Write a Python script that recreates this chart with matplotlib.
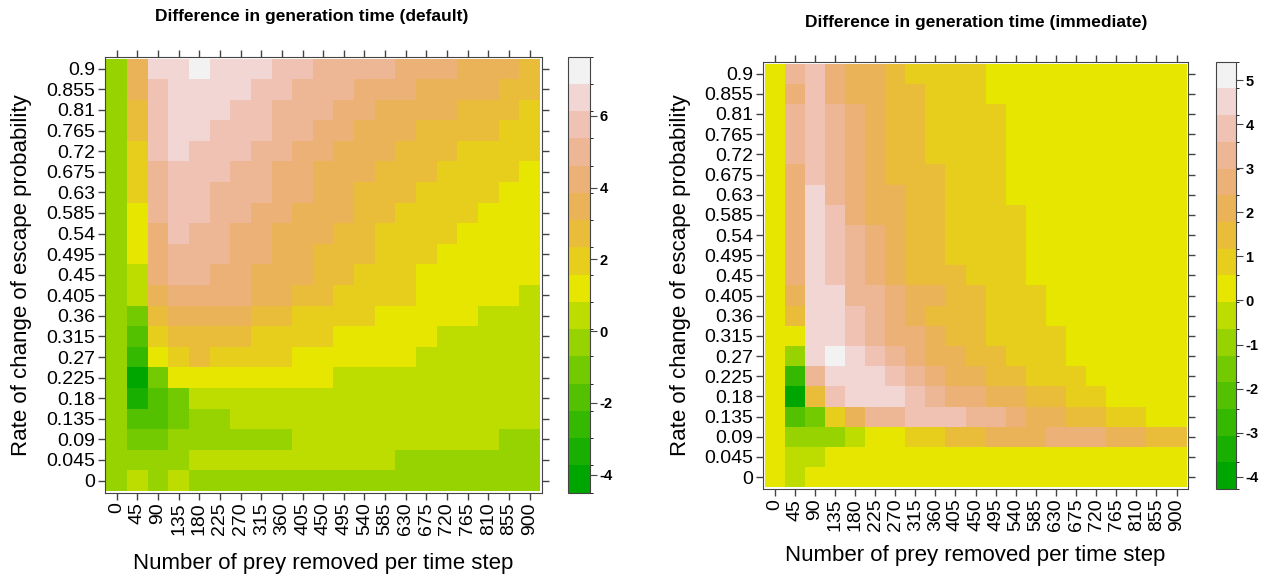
import colorsys
import numpy as np
import matplotlib
matplotlib.use("Agg")
import matplotlib.pyplot as plt
from matplotlib.colors import ListedColormap, BoundaryNorm

plt.rcParams['font.family'] = ['Liberation Sans', 'DejaVu Sans']
plt.rcParams['axes.unicode_minus'] = False

# ---- data -------------------------------------------------------------
prey_removed = [0, 45, 90, 135, 180, 225, 270, 315, 360, 405, 450,
                495, 540, 585, 630, 675, 720, 765, 810, 855, 900]
escape_labels = ["0", "0.045", "0.09", "0.135", "0.18", "0.225", "0.27",
                 "0.315", "0.36", "0.405", "0.45", "0.495", "0.54", "0.585",
                 "0.63", "0.675", "0.72", "0.765", "0.81", "0.855", "0.9"]

# colour class (0 = darkest green ... f = white) read off every cell,
# one string per row, from escape rate 0.9 (top) down to 0 (bottom)
default_rows = [
    "5aeefeeeddccccbbbaaa9",
    "5adeeeeddcccbbbaaaa99",
    "59deeeddcccbbaaaa9998",
    "59deedddccbbaaa999988",
    "58dedddccbbaaa9998888",
    "58cdddccbbaaa99988887",
    "58cddcccbbaa999888877",
    "57cddccbbaaa998888777",
    "57bdccbbaaa9988887777",
    "57bcccbbaa99988877777",
    "56bccbbaaa99888777777",
    "56abbbbaa998888777776",
    "549aaaa99888877777666",
    "538999988887777766666",
    "527898888777777666666",
    "504777777776666666666",
    "513466666666666666666",
    "533455666666666666666",
    "544555555666666666655",
    "555566666666665555555",
    "565655555555555555555",
]
immediate_rows = [
    "7cdbaa988887777777777",
    "7bdbaa998887777777777",
    "7cdcba998888777777777",
    "7cdcba998888777777777",
    "7cdcba998888777777777",
    "7bdcba999888777777777",
    "7becbaa99888777777777",
    "7bedbaa99888877777777",
    "7bedcba99888877777777",
    "7bedcba99888877777777",
    "7bedcba99988877777777",
    "7aeeccbaa998887777777",
    "79eedcba9998887777777",
    "77eedcbba998888777777",
    "75efedcbaa99888777777",
    "72ceeedcbaa9988877777",
    "709deeedcbbaa99887777",
    "7348accdddccbaa998877",
    "75556778899aaabbbaa99",
    "766777777777777777777",
    "767777777777777777777",
]
# colour key ranges (16 equal intervals)
default_range = (-4.5, 7.65)
immediate_range = (-4.28, 5.42)
default_ticks = [-4, -2, 0, 2, 4, 6]
immediate_ticks = [-4, -3, -2, -1, 0, 1, 2, 3, 4, 5]


def terrain_colors(n):
    # same construction as R's terrain.colors()
    k = n // 2
    cols = []
    for h, v in zip(np.linspace(4 / 12, 2 / 12, k), np.linspace(0.65, 0.9, k)):
        cols.append(colorsys.hsv_to_rgb(h, 1.0, v))
    h2 = np.linspace(2 / 12, 0, n - k + 1)[1:]
    s2 = np.linspace(1, 0, n - k + 1)[1:]
    v2 = np.linspace(0.9, 0.95, n - k + 1)[1:]
    for h, s, v in zip(h2, s2, v2):
        cols.append(colorsys.hsv_to_rgb(h, s, v))
    return cols


n_levels = 16
cmap = ListedColormap(terrain_colors(n_levels))


def to_values(rows, zrange):
    lo, hi = zrange
    step = (hi - lo) / n_levels
    codes = np.array([[int(c, 16) for c in r] for r in rows[::-1]])
    return lo + (codes + 0.5) * step


fig = plt.figure(figsize=(12.7, 5.76), dpi=100)

x_edges = np.arange(len(prey_removed) + 1) * 45 - 22.5
y_vals = np.array([float(s) for s in escape_labels])
y_edges = np.append(y_vals - 0.0225, y_vals[-1] + 0.0225)

frame_col = "#444444"


def panel(ax_rect, cb_rect, rows, zrange, ticks, title, title_xy, xlab_y, ylab_x):
    ax = fig.add_axes(ax_rect)
    cax = fig.add_axes(cb_rect)
    z = to_values(rows, zrange)
    bounds = np.linspace(zrange[0], zrange[1], n_levels + 1)
    norm = BoundaryNorm(bounds, cmap.N)
    mesh = ax.pcolormesh(x_edges, y_edges, z, cmap=cmap, norm=norm)
    ax.set_xlim(x_edges[0] - 4, x_edges[-1] + 4)
    ax.set_ylim(y_edges[0] - 0.004, y_edges[-1] + 0.004)
    ax.set_xticks(prey_removed)
    ax.set_xticklabels([str(v) for v in prey_removed], rotation=90, fontsize=14)
    ax.set_yticks(y_vals)
    ax.set_yticklabels(escape_labels, fontsize=14)
    ax.tick_params(direction="out", length=5, width=1, color=frame_col,
                   top=True, right=True, labeltop=False, labelright=False, pad=2)
    for sp in ax.spines.values():
        sp.set_color(frame_col)
    cb = fig.colorbar(mesh, cax=cax, boundaries=bounds, ticks=ticks)
    cb.outline.set_edgecolor(frame_col)
    cax.tick_params(direction="out", length=5, color=frame_col, labelsize=10.5, pad=2)
    for lab in cax.get_yticklabels():
        lab.set_fontweight("bold")
    cx = ax_rect[0] + ax_rect[2] / 2
    fig.text(title_xy[0], title_xy[1], title, ha="center", va="center",
             fontsize=12.5, fontweight="bold")
    fig.text(cx, xlab_y, "Number of prey removed per time step",
             ha="center", va="center", fontsize=16)
    fig.text(ylab_x, ax_rect[1] + ax_rect[3] / 2,
             "Rate of change of escape probability",
             ha="center", va="center", rotation=90, fontsize=16)
    return ax


panel([0.0824, 0.1446, 0.3441, 0.757], [0.4475, 0.1446, 0.0171, 0.757],
      default_rows, default_range, default_ticks,
      "Difference in generation time (default)", (312 / 1270, 1 - 17 / 576),
      1 - 563 / 576, 22 / 1270)
panel([0.6006, 0.151, 0.3351, 0.7418], [0.9572, 0.151, 0.0157, 0.7418],
      immediate_rows, immediate_range, immediate_ticks,
      "Difference in generation time (immediate)", (976 / 1270, 1 - 22 / 576),
      1 - 556 / 576, 680 / 1270)

fig.savefig("out.png", dpi=100)
